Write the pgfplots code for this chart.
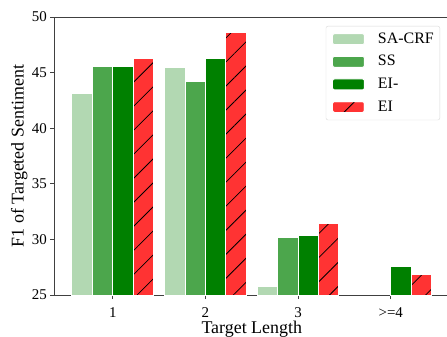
\documentclass[border=0pt]{standalone}
\usepackage{fontspec}
\setmainfont{Liberation Serif}
\usepackage{pgfplots}
\pgfplotsset{compat=1.18}
\usetikzlibrary{patterns.meta}
\definecolor{sacrf}{RGB}{178,216,178}
\definecolor{ss}{RGB}{76,166,76}
\definecolor{eim}{RGB}{0,128,0}
\definecolor{ei}{RGB}{255,51,51}
\definecolor{axc}{RGB}{64,64,64}
\begin{document}
\begin{tikzpicture}[x=1bp,y=1bp]
\begin{axis}[
  at={(0,0)}, anchor=south west,
  scale only axis, width=395.5bp, height=278bp,
  xmin=-0.634, xmax=3.634, ymin=25, ymax=50,
  ybar, bar width=0.22,
  axis line style={axc, line width=0.9bp},
  xtick={0,1,2,3}, xticklabels={1,2,3,{>=4}},
  ytick={25,30,35,40,45,50},
  tick style={axc, line width=0.9bp},
  tick align=outside, major tick length=4bp,
  xtick pos=bottom, ytick pos=left,
  /pgf/number format/assume math mode=true,
  ticklabel style={font=\fontsize{15}{15}\selectfont},
  xticklabel style={anchor=base, inner sep=0pt, yshift=-18bp},
  yticklabel style={anchor=east, inner sep=0pt, xshift=-3bp},
  xlabel={Target Length}, ylabel={F1 of Targeted Sentiment},
  label style={font=\fontsize{18}{18}\selectfont},
  xlabel style={at={(axis description cs:0.5,0)}, anchor=base, inner sep=0pt, yshift=-38.6bp},
  ylabel style={at={(axis description cs:-0.0665,0.5)}, anchor=south, inner sep=0pt, rotate=0},
  legend image code/.code={\draw[#1] (0bp,-5.5bp) rectangle (32bp,5.5bp);},
  legend style={at={(rel axis cs:1,1)}, anchor=north east, xshift=-9.5bp, yshift=-9bp,
    draw=black!15, rounded corners=2bp, fill=white,
    font=\fontsize{16}{16}\selectfont,
    inner xsep=6bp, inner ysep=5bp, row sep=6.6bp,
    nodes={inner sep=0pt, text height=12bp, text depth=4bp},
    /tikz/every odd column/.append style={column sep=13bp}},
  legend cell align=left,
]
\addplot[fill=sacrf, draw=white, line width=1bp, bar shift=-0.33] coordinates {(0,43.08) (1,45.44) (2,25.81)};
\addplot[fill=ss, draw=white, line width=1bp, bar shift=-0.11] coordinates {(0,45.56) (1,44.21) (2,30.19)};
\addplot[fill=eim, draw=white, line width=1bp, bar shift=0.11] coordinates {(0,45.56) (1,46.28) (2,30.37) (3,27.52)};
\addplot[fill=ei, draw=white, line width=1bp, bar shift=0.33,
  postaction={pattern={Lines[angle=45,distance=17bp,line width=0.8bp]}, pattern color=black}] coordinates {(0,46.25) (1,48.62) (2,31.47) (3,26.83)};
\legend{SA-CRF,SS,EI-,EI}
\end{axis}
\pgfresetboundingbox
\useasboundingbox (-54,-41) rectangle (393,295);
\end{tikzpicture}
\end{document}
